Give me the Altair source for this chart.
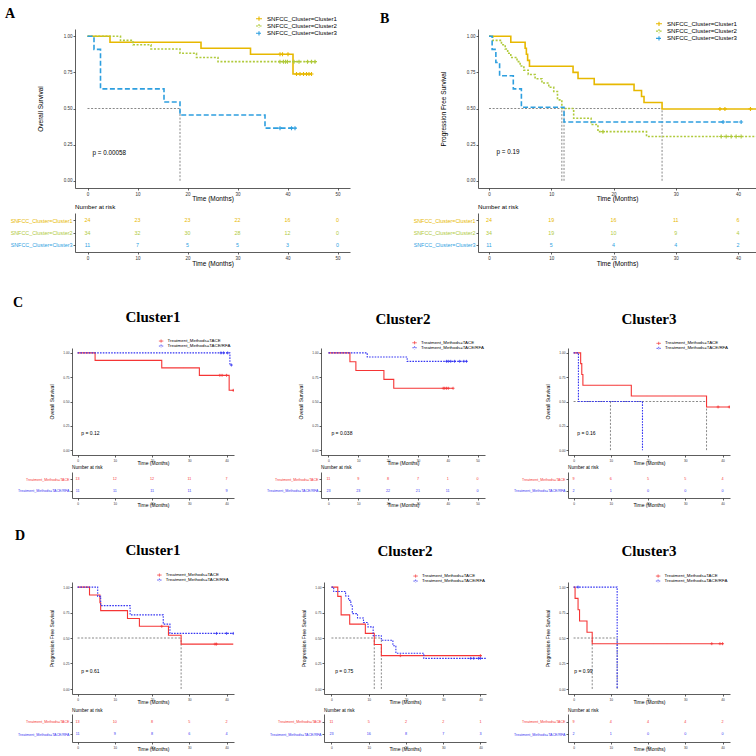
import altair as alt
import pandas as pd

FONT = "Liberation Sans"
SERIF = "Liberation Serif"
PLUS = "M-1,0L1,0M0,-1L0,1"
LEG_SYM = "M-1,0L1,0M0,-0.7L0,0.7"

# ---------------- groups / colours ----------------
SNF_GROUPS = ["SNFCC_Cluster=Cluster1", "SNFCC_Cluster=Cluster2", "SNFCC_Cluster=Cluster3"]
SNF_COLORS = ["#E7B800", "#B0CA3C", "#2E9FDF"]
SNF_DASHES = [[1, 0], [2, 1.6], [5, 2.5]]

TRT_GROUPS = ["Treatment_Methods=TACE", "Treatment_Methods=TACE/RFA"]
TRT_COLORS = ["#F53535", "#3535F2"]
TRT_DASHES = [[1, 0], [1.6, 1.2]]

# ---------------- Panel A : OS by SNFCC cluster ----------------
A_c1_time = [0, 4.5, 22.7, 32.6, 41.1, 44.9]
A_c1_surv = [1.0, 0.958, 0.917, 0.875, 0.739, 0.739]
A_c2_time = [0, 6.6, 9.1, 12.7, 18.5, 21.8, 26.1, 45.8]
A_c2_surv = [1.0, 0.971, 0.941, 0.912, 0.882, 0.853, 0.824, 0.824]
A_c3_time = [0, 1.3, 2.6, 15.3, 18.5, 35.5, 41.7]
A_c3_surv = [1.0, 0.909, 0.636, 0.545, 0.455, 0.364, 0.364]
A_c1_cens = [38.5, 39.0, 40.1, 41.8, 42.5, 43.2, 43.8, 44.3, 44.8]
A_c1_cens_s = [0.875, 0.875, 0.875, 0.739, 0.739, 0.739, 0.739, 0.739, 0.739]
A_c2_cens = [38.5, 39.2, 39.6, 40.0, 41.3, 42.3, 44.0, 44.8, 45.5]
A_c2_cens_s = [0.824] * 9
A_c3_cens = [38.5, 40.8, 41.5]
A_c3_cens_s = [0.364] * 3
A_medians = [18.5]
A_risk_times = [0, 10, 20, 30, 40, 50]
A_risk_c1 = [24, 23, 23, 22, 16, 0]
A_risk_c2 = [34, 32, 30, 28, 12, 0]
A_risk_c3 = [11, 7, 5, 5, 3, 0]

# ---------------- Panel B : PFS by SNFCC cluster ----------------
B_c1_time = [0, 3.5, 5.8, 6.0, 6.2, 6.5, 13.5, 14.3, 16.9, 23.3, 24.5, 24.9, 27.8, 43.5]
B_c1_surv = [1.0, 0.958, 0.917, 0.875, 0.833, 0.792, 0.75, 0.708, 0.667, 0.625, 0.583, 0.542, 0.497, 0.497]
B_c2_time = [0, 0.6, 2.0, 2.6, 3.0, 3.5, 4.5, 5.0, 5.6, 6.3, 7.4, 8.5, 9.6, 10.4, 11.0, 11.7, 13.6, 16.4, 17.5, 25.3, 43.5]
B_c2_surv = [1.0, 0.971, 0.941, 0.912, 0.882, 0.853, 0.824, 0.794, 0.765, 0.735, 0.706, 0.676, 0.647, 0.618, 0.56,
             0.50, 0.433, 0.389, 0.34, 0.306, 0.306]
B_c3_time = [0, 0.5, 1.1, 1.7, 3.9, 5.2, 12.05, 40.5]
B_c3_surv = [1.0, 0.909, 0.818, 0.727, 0.636, 0.509, 0.407, 0.407]
B_c1_cens = [37.1, 37.9, 42.0]
B_c1_cens_s = [0.497] * 3
B_c2_cens = [18.3, 37.3, 38.1, 38.9, 39.7, 40.5]
B_c2_cens_s = [0.34, 0.306, 0.306, 0.306, 0.306, 0.306]
B_c3_cens = [37.6, 40.5]
B_c3_cens_s = [0.407] * 2
B_medians = [11.7, 12.05, 27.8]
B_risk_times = [0, 10, 20, 30, 40]
B_risk_c1 = [24, 19, 16, 11, 6]
B_risk_c2 = [34, 19, 10, 9, 4]
B_risk_c3 = [11, 5, 4, 4, 2]

# ---------------- Panel C : OS by treatment within clusters ----------------
C1_tace_time = [0, 4.7, 22.6, 32.7, 40.7, 42.0]
C1_tace_surv = [1.0, 0.923, 0.846, 0.769, 0.615, 0.615]
C1_rfa_time = [0, 40.9, 41.3]
C1_rfa_surv = [1.0, 0.875, 0.875]
C1_tace_cens = [38.2, 38.8, 40.0, 41.8]
C1_tace_cens_s = [0.769, 0.769, 0.769, 0.615]
C1_rfa_cens = [38.5, 39.2, 40.3, 41.3]
C1_rfa_cens_s = [1.0, 1.0, 1.0, 0.875]
C1_medians = []
C1_risk_times = [0, 10, 20, 30, 40]
C1_risk_tace = [13, 12, 12, 11, 7]
C1_risk_rfa = [11, 11, 11, 11, 9]

C2_tace_time = [0, 7.2, 9.2, 18.6, 21.9, 41.8]
C2_tace_surv = [1.0, 0.909, 0.818, 0.727, 0.636, 0.636]
C2_rfa_time = [0, 13.0, 26.4, 46.5]
C2_rfa_surv = [1.0, 0.957, 0.913, 0.913]
C2_tace_cens = [38.5, 39.0, 39.6, 40.2, 41.8]
C2_tace_cens_s = [0.636] * 5
C2_rfa_cens = [39.6, 40.2, 41.0, 42.3, 44.0, 45.4, 46.3]
C2_rfa_cens_s = [0.913] * 7
C2_medians = []
C2_risk_times = [0, 10, 20, 30, 40, 50]
C2_risk_tace = [11, 9, 8, 7, 1, 0]
C2_risk_rfa = [23, 23, 22, 21, 11, 0]

C3_tace_time = [0, 1.9, 2.2, 2.5, 15.5, 35.7, 42.0]
C3_tace_surv = [1.0, 0.889, 0.778, 0.667, 0.556, 0.444, 0.444]
C3_rfa_time = [0, 1.3, 18.5]
C3_rfa_surv = [1.0, 0.5, 0.0]
C3_tace_cens = [38.8, 41.8]
C3_tace_cens_s = [0.444] * 2
C3_rfa_cens = []
C3_rfa_cens_s = []
C3_medians = [9.9, 35.7]
C3_risk_times = [0, 10, 20, 30, 40]
C3_risk_tace = [9, 6, 5, 5, 4]
C3_risk_rfa = [2, 1, 0, 0, 0]

# ---------------- Panel D : PFS by treatment within clusters ----------------
D1_tace_time = [0, 3.2, 6.0, 6.2, 13.4, 16.6, 24.4, 27.8, 41.8]
D1_tace_surv = [1.0, 0.923, 0.846, 0.769, 0.692, 0.615, 0.527, 0.44, 0.44]
D1_rfa_time = [0, 5.4, 6.2, 14.1, 23.0, 24.8, 41.8]
D1_rfa_surv = [1.0, 0.909, 0.818, 0.727, 0.636, 0.545, 0.545]
D1_tace_cens = [22.6, 36.9, 37.3]
D1_tace_cens_s = [0.615, 0.44, 0.44]
D1_rfa_cens = [37.3, 40.0, 41.8]
D1_rfa_cens_s = [0.545] * 3
D1_medians = [27.8]
D1_risk_times = [0, 10, 20, 30, 40]
D1_risk_tace = [13, 10, 8, 5, 2]
D1_risk_rfa = [11, 9, 8, 6, 4]

D2_tace_time = [0, 1.7, 2.6, 4.9, 9.1, 11.5, 13.4, 40.3]
D2_tace_surv = [1.0, 0.909, 0.727, 0.636, 0.545, 0.436, 0.327, 0.327]
D2_rfa_time = [0, 0.6, 3.8, 4.6, 5.2, 5.6, 7.0, 8.6, 9.8, 11.2, 13.4, 16.5, 17.3, 24.8, 41.8]
D2_rfa_surv = [1.0, 0.957, 0.913, 0.870, 0.826, 0.739, 0.696, 0.652, 0.609, 0.522, 0.478, 0.424, 0.35, 0.30, 0.30]
D2_tace_cens = [18.5, 40.0]
D2_tace_cens_s = [0.327] * 2
D2_rfa_cens = [37.4, 38.2, 39.5, 40.0]
D2_rfa_cens_s = [0.30] * 4
D2_medians = [11.5, 13.4]
D2_risk_times = [0, 10, 20, 30, 40]
D2_risk_tace = [11, 5, 2, 2, 1]
D2_risk_rfa = [23, 16, 8, 7, 3]

D3_tace_time = [0, 0.4, 1.2, 1.6, 3.6, 5.0, 40.2]
D3_tace_surv = [1.0, 0.889, 0.778, 0.667, 0.556, 0.444, 0.444]
D3_rfa_time = [0, 11.7]
D3_rfa_surv = [1.0, 0.0]
D3_tace_cens = [37.1, 39.3, 40.0]
D3_tace_cens_s = [0.444] * 3
D3_rfa_cens = [1.2]
D3_rfa_cens_s = [1.0]
D3_medians = [5.0, 11.7]
D3_risk_times = [0, 10, 20, 30, 40]
D3_risk_tace = [9, 4, 4, 4, 2]
D3_risk_rfa = [2, 1, 0, 0, 0]

# ---------------- styles ----------------
BIG = dict(tick=4.5, axt=6.5, leg=6.1, sym=36, clip=6, rowpad=0.3, loff=4, lw=1.6, cens=16,
           p=6.3, risk_lab=5.4, risk_num=5.3, nar=6.2, nar_off=2.6, ytx=35, xty=10.5, rxty=11)
SMALL = dict(tick=3.2, axt=5.0, leg=4.4, sym=20, clip=4.5, rowpad=-1.0, loff=3.4, lw=1.1, cens=9,
             p=5.0, risk_lab=3.6, risk_num=3.7, nar=4.7, nar_off=2.4, ytx=21, xty=7.3, rxty=6.8)


def long_df(groups, xs, ys, xname="t", yname="s"):
    rows = []
    for g, tt, ss in zip(groups, xs, ys):
        for t, s in zip(tt, ss):
            rows.append({"group": g, xname: t, yname: s})
    return pd.DataFrame(rows, columns=["group", xname, yname])


def km_chart(groups, colors, dashes, times, survs, ctimes, csurvs, medians,
             x_dom, x_ticks, w, h, ytitle, ptxt, p_xy, leg_xy, st, title=None):
    xs = alt.Scale(domain=x_dom, nice=False, zero=False)
    ys = alt.Scale(domain=[-0.05, 1.05], nice=False, zero=False)
    xax = alt.Axis(values=x_ticks, title="Time (Months)", labelFontSize=st["tick"], titleFontSize=st["axt"],
                   tickSize=2, labelPadding=1, titleX=w / 2, titleY=st["xty"], titleBaseline="middle",
                   titleAlign="center", format="d")
    yax = alt.Axis(values=[0, 0.25, 0.5, 0.75, 1.0], format=".2f", title=ytitle, labelFontSize=st["tick"],
                   titleFontSize=st["axt"], tickSize=2, labelPadding=1, titleX=-st["ytx"], titleY=h / 2,
                   titleAngle=270, titleAlign="center", titleBaseline="middle")

    def X(f):
        return alt.X(f, type="quantitative", scale=xs, axis=xax)

    def Y(f):
        return alt.Y(f, type="quantitative", scale=ys, axis=yax)

    legend = alt.Legend(orient="none", legendX=leg_xy[0], legendY=leg_xy[1], title=None,
                        labelFontSize=st["leg"], labelFont=FONT, labelColor="black",
                        symbolType=LEG_SYM, symbolSize=st["sym"], symbolStrokeWidth=st["lw"] * 0.7,
                        rowPadding=st["rowpad"], clipHeight=st["clip"], labelOffset=st["loff"],
                        padding=0, labelLimit=400)
    color = alt.Color("group:N", scale=alt.Scale(domain=groups, range=colors), legend=legend)

    layers = []
    if medians:
        mrows = [{"x": 0, "x2": max(medians), "y": 0.5, "y2": 0.5}]
        for m in medians:
            mrows.append({"x": m, "x2": m, "y": 0, "y2": 0.5})
        layers.append(alt.Chart(pd.DataFrame(mrows)).mark_rule(
            strokeDash=[2, 1.6], color="#555555", strokeWidth=0.7).encode(
            x=X("x"), x2="x2:Q", y=Y("y"), y2="y2:Q"))

    layers.append(alt.Chart(long_df(groups, times, survs)).mark_line(
        interpolate="step-after", strokeWidth=st["lw"], clip=True).encode(
        x=X("t"), y=Y("s"), color=color,
        strokeDash=alt.StrokeDash("group:N", scale=alt.Scale(domain=groups, range=dashes), legend=None)))

    layers.append(alt.Chart(long_df(groups, ctimes, csurvs)).mark_point(
        shape=PLUS, filled=False, size=st["cens"], strokeWidth=st["lw"] * 0.7, opacity=1, clip=True).encode(
        x=X("t"), y=Y("s"), color=color))

    layers.append(alt.Chart(pd.DataFrame({"x": [p_xy[0]], "y": [p_xy[1]], "label": [ptxt]})).mark_text(
        align="left", baseline="middle", fontSize=st["p"], font=FONT, color="black").encode(
        x=X("x"), y=Y("y"), text="label:N"))

    props = dict(width=w, height=h)
    if title is not None:
        props["title"] = title
    return alt.layer(*layers).properties(**props)


def risk_chart(groups, colors, rtimes, counts, x_dom, x_ticks, w, h, st, nar_off=None):
    rows = []
    for g, cc in zip(groups, counts):
        for t, n in zip(rtimes, cc):
            rows.append({"group": g, "t": t, "n": n})
    cond = [{"test": "datum.value == '%s'" % g, "value": c} for g, c in zip(groups, colors)]
    return alt.Chart(pd.DataFrame(rows)).mark_text(fontSize=st["risk_num"], font=FONT).encode(
        x=alt.X("t:Q", scale=alt.Scale(domain=x_dom, nice=False, zero=False),
                axis=alt.Axis(values=x_ticks, title="Time (Months)", format="d", labelFontSize=st["tick"],
                              titleFontSize=st["axt"], tickSize=2, labelPadding=1, titleX=w / 2,
                              titleY=st["rxty"], titleBaseline="middle", titleAlign="center")),
        y=alt.Y("group:N", sort=groups, scale=alt.Scale(type="point", padding=0.6),
                axis=alt.Axis(title=None, labelFontSize=st["risk_lab"], tickSize=2, labelPadding=1,
                              labelLimit=400, labelColor={"condition": cond, "value": "black"})),
        color=alt.Color("group:N", scale=alt.Scale(domain=groups, range=colors), legend=None),
        text="n:Q",
    ).properties(width=w, height=h, title=alt.TitleParams(
        "Number at risk", anchor="start", frame="group", fontSize=st["nar"], fontWeight="normal",
        font=FONT, color="black", offset=st["nar_off"] if nar_off is None else nar_off))


def spacer(w):
    return alt.Chart(pd.DataFrame({"v": [0]})).mark_point(opacity=0).encode(
        x=alt.X("v:Q", axis=None), y=alt.Y("v:Q", axis=None)).properties(width=w, height=1)


def hrow(*charts, title=None):
    c = alt.hconcat(*charts, spacing=0, bounds="flush")
    if title is not None:
        c = c.properties(title=title)
    return c.resolve_scale(color="independent", strokeDash="independent")


def vstack(*charts, spacing):
    return alt.vconcat(*charts, spacing=spacing).resolve_scale(color="independent", strokeDash="independent")


def letter(t, dx, dy, offset=0):
    return alt.TitleParams(t, anchor="start", frame="group", font=SERIF, fontSize=14, fontWeight="bold",
                           color="black", dx=dx, dy=dy, offset=offset)


def cluster_title(t, offset):
    return alt.TitleParams(t, anchor="middle", frame="group", font=SERIF, fontSize=15, fontWeight="bold",
                           color="black", offset=offset)


T40 = [0, 10, 20, 30, 40]
T50 = [0, 10, 20, 30, 40, 50]

# ---------------- row 1 (A, B) ----------------
kmA = km_chart(SNF_GROUPS, SNF_COLORS, SNF_DASHES,
               [A_c1_time, A_c2_time, A_c3_time], [A_c1_surv, A_c2_surv, A_c3_surv],
               [A_c1_cens, A_c2_cens, A_c3_cens], [A_c1_cens_s, A_c2_cens_s, A_c3_cens_s], A_medians,
               [-2.5, 52.5], T50, 275, 159, "Overall Survival",
               "p = 0.00058", (1.0, 0.19), (180, -13.3), BIG, title=letter("A", -70, 5))
riskA = risk_chart(SNF_GROUPS, SNF_COLORS, A_risk_times, [A_risk_c1, A_risk_c2, A_risk_c3],
                   [-2.5, 52.5], T50, 275, 39, BIG)
kmB = km_chart(SNF_GROUPS, SNF_COLORS, SNF_DASHES,
               [B_c1_time, B_c2_time, B_c3_time], [B_c1_surv, B_c2_surv, B_c3_surv],
               [B_c1_cens, B_c2_cens, B_c3_cens], [B_c1_cens_s, B_c2_cens_s, B_c3_cens_s], B_medians,
               [-1.77, 42.89], T40, 278, 159, "Progression Free Survival",
               "p = 0.19", (1.2, 0.2), (177, -8.2), BIG, title=letter("B", -98, 5))
riskB = risk_chart(SNF_GROUPS, SNF_COLORS, B_risk_times, [B_risk_c1, B_risk_c2, B_risk_c3],
                   [-1.77, 42.89], T40, 278, 39, BIG)

r1km = hrow(spacer(75), kmA, spacer(128), kmB)
r1risk = hrow(spacer(75), riskA, spacer(128), riskB)


def trt_km(tt, ts, rt, rs, tc, tcs, rc, rcs, meds, x_dom, x_ticks, w, h, ytitle, ptxt, pxy, leg, title, toff):
    return km_chart(TRT_GROUPS, TRT_COLORS, TRT_DASHES, [tt, rt], [ts, rs], [tc, rc], [tcs, rcs], meds,
                    x_dom, x_ticks, w, h, ytitle, ptxt, pxy, leg, SMALL, title=cluster_title(title, toff))


def trt_risk(rtimes, rtace, rrfa, x_dom, x_ticks, w, h, nar_off=None):
    return risk_chart(TRT_GROUPS, TRT_COLORS, rtimes, [rtace, rrfa], x_dom, x_ticks, w, h, SMALL, nar_off)


# ---------------- row C ----------------
kmC1 = trt_km(C1_tace_time, C1_tace_surv, C1_rfa_time, C1_rfa_surv, C1_tace_cens, C1_tace_cens_s,
              C1_rfa_cens, C1_rfa_cens_s, C1_medians, [-1.5, 42], T40, 162, 107, "Overall Survival",
              "p = 0.12", (1.0, 0.18), (86.1, -9.2), "Cluster1", 14)
kmC2 = trt_km(C2_tace_time, C2_tace_surv, C2_rfa_time, C2_rfa_surv, C2_tace_cens, C2_tace_cens_s,
              C2_rfa_cens, C2_rfa_cens_s, C2_medians, [-2.5, 52.5], T50, 164, 107, "Overall Survival",
              "p = 0.038", (1.0, 0.18), (90.6, -7.5), "Cluster2", 14)
kmC3 = trt_km(C3_tace_time, C3_tace_surv, C3_rfa_time, C3_rfa_surv, C3_tace_cens, C3_tace_cens_s,
              C3_rfa_cens, C3_rfa_cens_s, C3_medians, [-1.5, 42], T40, 162, 107, "Overall Survival",
              "p = 0.16", (1.0, 0.18), (87.7, -6.9), "Cluster3", 14)
rCkm = hrow(spacer(72), kmC1, spacer(87), kmC2, spacer(83), kmC3, title=letter("C", 13, 0))
rCrisk = hrow(spacer(72), trt_risk(C1_risk_times, C1_risk_tace, C1_risk_rfa, [-1.5, 42], T40, 162, 26),
              spacer(87), trt_risk(C2_risk_times, C2_risk_tace, C2_risk_rfa, [-2.5, 52.5], T50, 164, 26),
              spacer(83), trt_risk(C3_risk_times, C3_risk_tace, C3_risk_rfa, [-1.5, 42], T40, 162, 26))

# ---------------- row D ----------------
kmD1 = trt_km(D1_tace_time, D1_tace_surv, D1_rfa_time, D1_rfa_surv, D1_tace_cens, D1_tace_cens_s,
              D1_rfa_cens, D1_rfa_cens_s, D1_medians, [-1.5, 42], T40, 162, 112, "Progression Free Survival",
              "p = 0.61", (1.0, 0.18), (84.4, -9.2), "Cluster1", 15)
kmD2 = trt_km(D2_tace_time, D2_tace_surv, D2_rfa_time, D2_rfa_surv, D2_tace_cens, D2_tace_cens_s,
              D2_rfa_cens, D2_rfa_cens_s, D2_medians, [-2, 41.5], T40, 162, 112, "Progression Free Survival",
              "p = 0.75", (1.0, 0.18), (88.6, -8.2), "Cluster2", 15)
kmD3 = trt_km(D3_tace_time, D3_tace_surv, D3_rfa_time, D3_rfa_surv, D3_tace_cens, D3_tace_cens_s,
              D3_rfa_cens, D3_rfa_cens_s, D3_medians, [-1.5, 42], T40, 162, 112, "Progression Free Survival",
              "p = 0.99", (0.2, 0.18), (87.1, -8.2), "Cluster3", 15)
rDkm = hrow(spacer(72), kmD1, spacer(90), kmD2, spacer(82), kmD3, title=letter("D", 15, 0))
rDrisk = hrow(spacer(72), trt_risk(D1_risk_times, D1_risk_tace, D1_risk_rfa, [-1.5, 42], T40, 162, 28, 1.0),
              spacer(90), trt_risk(D2_risk_times, D2_risk_tace, D2_risk_rfa, [-2, 41.5], T40, 162, 28, 1.0),
              spacer(82), trt_risk(D3_risk_times, D3_risk_tace, D3_risk_rfa, [-1.5, 42], T40, 162, 28, 1.0))

blockAB = vstack(r1km, r1risk, spacing=2)
blockC = vstack(rCkm, rCrisk, spacing=-2)
blockD = vstack(rDkm, rDrisk, spacing=3)
blockCD = vstack(blockC, blockD, spacing=20)

chart = vstack(blockAB, blockCD, spacing=28).properties(
    padding={"left": 0, "top": 6, "right": 0, "bottom": 0}, background="white"
).configure_view(stroke=None).configure_axis(
    grid=False, domainColor="#333333", tickColor="#333333", labelColor="#333333", titleColor="black",
    labelFont=FONT, titleFont=FONT, titleFontWeight="normal", domainWidth=0.8, tickWidth=0.8
)

chart.save("out.html", embed_options={"renderer": "svg", "actions": False})
